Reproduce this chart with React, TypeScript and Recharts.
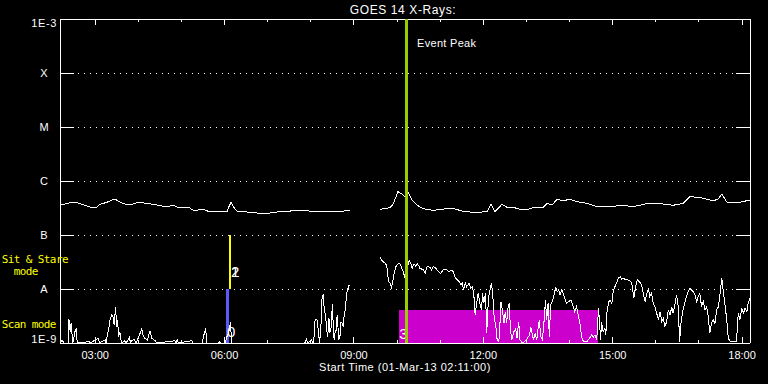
import React from 'react';
import {
  ComposedChart,
  Line,
  XAxis,
  YAxis,
  CartesianGrid,
  ReferenceLine,
  ReferenceArea,
  Label,
} from 'recharts';

// ---------- data ----------
const START_HOUR = 2 + 11 / 60; // 01-Mar-13 02:11:00
const SPAN_HOURS = 16;
const END_HOUR = START_HOUR + SPAN_HOURS;

const hourTicks = [3, 4, 5, 6, 7, 8, 9, 10, 11, 12, 13, 14, 15, 16, 17, 18];
const labelledHours = [3, 6, 9, 12, 15, 18];
const fluxTicks = [1e-9, 1e-8, 1e-7, 1e-6, 1e-5, 1e-4, 1e-3];
const fluxTickLabels = ['1E-9', 'A', 'B', 'C', 'M', 'X', '1E-3'];
const innerDecades = [1e-8, 1e-7, 1e-6, 1e-5, 1e-4];

const titleText = 'GOES 14 X-Rays:';
const xAxisTitle = 'Start Time (01-Mar-13 02:11:00)';
const eventPeakText = 'Event Peak';
const eventPeakHour = 10.22;

// long channel (1-8 A), [hour, flux W/m^2]
const longChannel: [number, number | null][] = [
  [2.19, 3.59e-7], [2.46, 4.03e-7], [2.53, 4.08e-7], [2.72, 3.64e-7], [2.93, 3.21e-7],
  [3.04, 3.3e-7], [3.11, 3.7e-7], [3.27, 4.03e-7], [3.39, 4.45e-7], [3.48, 4.51e-7],
  [3.58, 4.03e-7], [3.74, 3.64e-7], [3.88, 3.75e-7], [3.99, 4.03e-7], [4.2, 3.86e-7],
  [4.39, 3.64e-7], [4.55, 3.45e-7], [4.69, 3.34e-7], [4.8, 3.59e-7], [4.9, 3.3e-7],
  [5.04, 3.16e-7], [5.15, 3.3e-7], [5.27, 2.9e-7], [5.38, 2.9e-7], [5.5, 2.99e-7],
  [5.62, 2.75e-7], [5.89, 2.67e-7], [6.06, 2.75e-7], [6.1, 3.34e-7], [6.15, 4.03e-7],
  [6.2, 3.34e-7], [6.29, 2.75e-7], [6.36, 2.78e-7], [6.52, 2.67e-7], [6.75, 2.55e-7],
  [6.98, 2.48e-7], [7.12, 2.63e-7], [7.45, 2.75e-7], [7.82, 2.9e-7], [7.91, 2.82e-7],
  [8.14, 2.67e-7], [8.44, 2.7e-7], [8.68, 2.75e-7], [8.86, 2.82e-7], [8.91, 2.82e-7],
  [9.25, null],
  [9.6, 2.9e-7], [9.67, 3.07e-7], [9.84, 3.21e-7], [9.91, 3.75e-7], [10.02, 6.34e-7],
  [10.11, 5.74e-7], [10.18, 5.15e-7], [10.25, 6.34e-7], [10.35, 4.45e-7], [10.46, 3.59e-7],
  [10.6, 3.07e-7], [10.83, 2.86e-7], [11.16, 3.07e-7], [11.34, 3.03e-7], [11.53, 2.75e-7],
  [11.85, 2.59e-7], [12.09, 2.75e-7], [12.18, 3.7e-7], [12.27, 2.7e-7], [12.43, 3.7e-7],
  [12.55, 3.26e-7], [12.69, 3.26e-7], [12.85, 2.99e-7], [13.04, 2.99e-7], [13.15, 3.21e-7],
  [13.38, 3.21e-7], [13.48, 3.86e-7], [13.59, 3.59e-7], [13.71, 4.58e-7], [13.85, 4.32e-7],
  [14.01, 4.58e-7], [14.17, 4.14e-7], [14.4, 3.86e-7], [14.64, 3.34e-7], [15.01, 3.34e-7],
  [15.17, 3.59e-7], [15.47, 3.34e-7], [15.79, 3.8e-7], [16.1, 3.8e-7], [16.4, 3.55e-7],
  [16.63, 3.86e-7], [16.79, 5.12e-7], [16.98, 4.99e-7], [17.14, 4.7e-7], [17.33, 4.32e-7],
  [17.44, 4.58e-7], [17.53, 5.74e-7], [17.65, 4.03e-7], [17.79, 3.96e-7], [17.95, 4.03e-7],
  [18.18, 4.45e-7],
];

// short channel (0.5-4 A), [hour, flux W/m^2]
const shortChannel: [number, number | null][] = [
  [2.19, 1.0e-9], [2.23, 1.14e-9], [2.28, 1.0e-9], [2.37, 1.0e-9], [2.39, 2.78e-9], [2.42, 1.62e-9],
  [2.44, 2.35e-9], [2.48, 1.0e-9], [2.53, 1.62e-9], [2.57, 1.87e-9], [2.58, 1.0e-9], [2.86, 1.06e-9],
  [2.88, 1.0e-9], [3.07, 1.22e-9], [3.1, 1.0e-9], [3.23, 1.14e-9], [3.25, 1.0e-9], [3.29, 1.51e-9],
  [3.32, 1.95e-9], [3.34, 2.67e-9], [3.38, 3.3e-9], [3.42, 2.99e-9], [3.44, 2.15e-9], [3.47, 4.58e-9],
  [3.5, 2.0e-9], [3.52, 2.67e-9], [3.54, 1.31e-9], [3.57, 1.62e-9], [3.61, 1.0e-9], [3.69, 1.1e-9],
  [3.72, 1.0e-9], [3.79, 1.28e-9], [3.82, 1.0e-9], [3.85, 1.1e-9], [3.9, 1.17e-9], [3.95, 1.0e-9],
  [4.04, 1.51e-9], [4.08, 1.82e-9], [4.11, 1.41e-9], [4.15, 1.22e-9], [4.21, 1.14e-9], [4.27, 1.67e-9],
  [4.31, 1.22e-9], [4.39, 1.1e-9], [4.43, 1.0e-9], [4.85, 1.1e-9], [4.87, 1.0e-9], [4.9, 1.14e-9],
  [4.93, 1.0e-9], [5.24, 1.1e-9], [5.27, 1.0e-9], [5.48, 1.0e-9], [5.52, 1.41e-9], [5.56, 1.87e-9],
  [5.59, 1.0e-9], [5.85, 1.0e-9], [5.88, 1.06e-9], [5.9, 1.0e-9], [6.01, 1.0e-9], [6.05, 1.28e-9],
  [6.09, 1.51e-9], [6.14, 2.42e-9], [6.16, 1.0e-9], [7.86, 1.0e-9], [7.9, 1.17e-9], [7.93, 1.0e-9],
  [8.02, 1.14e-9], [8.05, 1.0e-9], [8.07, 1.17e-9], [8.1, 2.75e-9], [8.14, 2.75e-9], [8.16, 2.15e-9],
  [8.2, 1.0e-9], [8.23, 1.74e-9], [8.26, 6.73e-9], [8.29, 8.08e-9], [8.31, 4.08e-9], [8.34, 3.3e-9],
  [8.37, 1.74e-9], [8.39, 1.31e-9], [8.42, 2.87e-9], [8.44, 1.51e-9], [8.47, 1.95e-9], [8.5, 5.27e-9],
  [8.52, 2.0e-9], [8.54, 1.14e-9], [8.57, 1.74e-9], [8.59, 1.74e-9], [8.61, 3.3e-9], [8.65, 1.14e-9],
  [8.68, 1.41e-9], [8.7, 2.48e-9], [8.73, 2.32e-9], [8.75, 2.0e-9], [8.78, 3.8e-9], [8.8, 4.08e-9],
  [8.82, 6.73e-9], [8.84, 8.91e-9], [8.87, 10.7e-9], [8.89, 11.9e-9],
  [9.25, null],
  [9.6, 38.6e-9], [9.64, 34.4e-9], [9.68, 32.1e-9], [9.74, 29.0e-9], [9.77, 24.2e-9], [9.8, 13.6e-9],
  [9.84, 12.8e-9], [9.87, 10.7e-9], [9.9, 13.6e-9], [9.93, 19.5e-9], [9.97, 25.9e-9], [10.03, 29.9e-9],
  [10.07, 29.0e-9], [10.11, 24.2e-9], [10.14, 20.9e-9], [10.18, 16.5e-9], [10.22, 22.5e-9], [10.28, 33.4e-9],
  [10.32, 29.9e-9], [10.35, 24.2e-9], [10.39, 29.0e-9], [10.43, 26.7e-9], [10.47, 29.0e-9], [10.52, 25.9e-9],
  [10.53, 24.2e-9], [10.61, 22.5e-9], [10.65, 19.5e-9], [10.7, 26.7e-9], [10.76, 25.2e-9], [10.8, 22.5e-9],
  [10.84, 25.9e-9], [10.9, 24.2e-9], [10.96, 20.9e-9], [11.01, 19.5e-9], [11.07, 22.5e-9], [11.15, 22.5e-9],
  [11.21, 20.9e-9], [11.27, 22.5e-9], [11.3, 20.9e-9], [11.34, 16.9e-9], [11.38, 15.1e-9], [11.44, 13.6e-9],
  [11.48, 11.9e-9], [11.51, 12.8e-9], [11.54, 9.58e-9], [11.58, 12.8e-9], [11.61, 11.0e-9], [11.67, 12.8e-9],
  [11.71, 10.3e-9], [11.75, 11.0e-9], [11.78, 7.74e-9], [11.81, 3.3e-9], [11.85, 5.82e-9], [11.88, 8.32e-9],
  [11.92, 5.43e-9], [11.96, 4.08e-9], [11.98, 8.32e-9], [12.01, 5.43e-9], [12.05, 8.32e-9], [12.08, 1.51e-9],
  [12.1, 3.8e-9], [12.13, 7.74e-9], [12.17, 11.0e-9], [12.19, 12.8e-9], [12.22, 7.2e-9], [12.25, 3.07e-9],
  [12.29, 2.0e-9], [12.32, 1.14e-9], [12.36, 1.06e-9], [12.39, 2.67e-9], [12.41, 5.82e-9], [12.44, 4.08e-9],
  [12.48, 2.32e-9], [12.51, 3.8e-9], [12.54, 2.32e-9], [12.57, 4.39e-9], [12.6, 5.43e-9], [12.63, 1.74e-9],
  [12.66, 1.14e-9], [12.71, 1.62e-9], [12.75, 1.87e-9], [12.78, 1.22e-9], [12.82, 2.48e-9], [12.85, 1.14e-9],
  [12.91, 1.0e-9], [13.0, 1.14e-9], [13.07, 1.41e-9], [13.1, 2.0e-9], [13.14, 1.41e-9], [13.16, 1.14e-9],
  [13.2, 1.51e-9], [13.24, 1.14e-9], [13.27, 1.87e-9], [13.3, 2.67e-9], [13.33, 1.31e-9], [13.37, 1.14e-9],
  [13.41, 2.67e-9], [13.44, 6.25e-9], [13.47, 2.67e-9], [13.5, 5.43e-9], [13.53, 1.31e-9], [13.56, 5.05e-9],
  [13.6, 5.82e-9], [13.64, 7.74e-9], [13.68, 11.0e-9], [13.71, 8.91e-9], [13.75, 9.58e-9], [13.78, 7.74e-9],
  [13.82, 9.58e-9], [13.85, 8.32e-9], [13.9, 6.25e-9], [13.93, 5.43e-9], [13.98, 5.82e-9], [14.03, 6.25e-9],
  [14.07, 5.05e-9], [14.12, 3.8e-9], [14.16, 4.7e-9], [14.2, 3.3e-9], [14.24, 2.32e-9], [14.28, 1.31e-9],
  [14.32, 1.06e-9], [14.4, 1.06e-9], [14.46, 1.22e-9], [14.51, 1.41e-9], [14.55, 1.28e-9], [14.59, 1.41e-9],
  [14.63, 1.14e-9], [14.67, 4.39e-9], [14.69, 2.67e-9], [14.72, 1.14e-9], [14.74, 2.48e-9], [14.78, 1.62e-9],
  [14.82, 1.87e-9], [14.84, 1.41e-9], [14.87, 4.08e-9], [14.91, 5.82e-9], [14.94, 6.25e-9], [14.98, 5.43e-9],
  [15.01, 8.91e-9], [15.05, 11.0e-9], [15.09, 12.8e-9], [15.13, 15.8e-9], [15.17, 16.9e-9], [15.21, 15.1e-9],
  [15.24, 15.8e-9], [15.31, 14.7e-9], [15.36, 14.7e-9], [15.42, 13.6e-9], [15.45, 11.9e-9], [15.49, 6.73e-9],
  [15.53, 11.0e-9], [15.57, 14.7e-9], [15.62, 13.6e-9], [15.67, 11.9e-9], [15.71, 8.32e-9], [15.75, 5.82e-9],
  [15.79, 8.32e-9], [15.83, 10.3e-9], [15.86, 7.2e-9], [15.9, 8.32e-9], [15.94, 5.43e-9], [15.98, 4.7e-9],
  [16.02, 3.55e-9], [16.06, 2.67e-9], [16.1, 3.8e-9], [16.14, 2.48e-9], [16.17, 2.87e-9], [16.21, 2.0e-9],
  [16.25, 2.48e-9], [16.29, 4.08e-9], [16.33, 3.3e-9], [16.37, 4.7e-9], [16.4, 3.55e-9], [16.44, 5.05e-9],
  [16.48, 7.74e-9], [16.52, 4.7e-9], [16.55, 1.06e-9], [16.59, 2.67e-9], [16.63, 4.08e-9], [16.67, 5.43e-9],
  [16.71, 7.2e-9], [16.75, 8.91e-9], [16.79, 10.3e-9], [16.83, 9.58e-9], [16.87, 8.91e-9], [16.91, 7.74e-9],
  [16.95, 5.82e-9], [16.98, 7.2e-9], [17.02, 8.32e-9], [17.06, 4.7e-9], [17.1, 5.82e-9], [17.14, 4.08e-9],
  [17.18, 4.7e-9], [17.22, 2.87e-9], [17.25, 1.51e-9], [17.29, 2.32e-9], [17.33, 2.67e-9], [17.37, 2.32e-9],
  [17.41, 4.08e-9], [17.45, 4.7e-9], [17.49, 8.32e-9], [17.53, 15.8e-9], [17.56, 9.58e-9], [17.6, 5.43e-9],
  [17.64, 2.87e-9], [17.68, 1.22e-9], [17.72, 1.09e-9], [17.8, 1.06e-9], [17.87, 1.06e-9], [17.91, 3.55e-9],
  [17.95, 2.67e-9], [17.99, 4.39e-9], [18.03, 3.55e-9], [18.07, 4.39e-9], [18.11, 3.8e-9], [18.14, 5.43e-9],
  [18.18, 6.73e-9],
];

// observing-mode intervals: [from hour, to hour, low flux, high flux]
const scanModeInterval = [6.03, 6.11, 1e-9, 1e-8];
const sitStareInterval = [6.1, 6.15, 1e-8, 1e-7];
const eventInterval = [10.04, 14.65, 1e-9, 4.1e-9];
const scanModeLabels = ['0'];
const sitStareLabels = ['1', '2'];
const eventIntervalLabels = ['3'];
const modeNames = ['Sit & Stare', 'mode', 'Scan mode'];

// ---------- layout / style ----------
const W = 768;
const H = 384;
const Y_AXIS_W = 60;
const X_AXIS_H = 41;
const MARGIN = { top: 19, right: 18, bottom: 0, left: 0 };
const PLOT_W = W - Y_AXIS_W - MARGIN.right; // 690
const PLOT_H = H - MARGIN.top - X_AXIS_H; // 324
const HOURS_PER_PX = SPAN_HOURS / PLOT_W;
const DECADES_PER_PX = 6 / PLOT_H;

const SANS = '"Liberation Sans", Arial, sans-serif';
const MONO = '"DejaVu Sans Mono", monospace';
const WHITE = '#ffffff';
const YELLOW = '#ffff00';
const BLUE = '#5a5aff';
const MAGENTA = '#cc00cc';
const PEAK_GREEN = '#9acd00';

const toRows = (arr: [number, number | null][]) => arr.map(([t, f]) => ({ t, f }));
const longData = toRows(longChannel);
const shortData = toRows(shortChannel);

const fmtHour = (h: number) => `${String(h).padStart(2, '0')}:00`;

const FluxTick = (props: any) => {
  const { y, payload } = props;
  const i = fluxTicks.findIndex(
    (t) => Math.abs(Math.log10(t) - Math.log10(payload.value)) < 1e-6,
  );
  const text = i >= 0 ? fluxTickLabels[i] : '';
  const isExp = text.startsWith('1E');
  let baseline = y + 4;
  if (i === fluxTicks.length - 1) baseline = y + 8;
  if (i === 0) baseline = y;
  return (
    <text
      x={isExp ? Y_AXIS_W - 3 : Y_AXIS_W - 16}
      y={baseline}
      textAnchor={isExp ? 'end' : 'middle'}
      fill={WHITE}
      fontSize={11}
      fontFamily={SANS}
      letterSpacing={isExp ? 0.6 : 0}
    >
      {text}
    </text>
  );
};

const HourTick = (props: any) => {
  const { x, y, payload } = props;
  return (
    <text x={x} y={y + 15.5} textAnchor="middle" fill={WHITE} fontSize={11} fontFamily={SANS}>
      {fmtHour(payload.value)}
    </text>
  );
};

const TitleContent = ({ viewBox }: any) => (
  <text
    x={viewBox.x + viewBox.width / 2 - 2}
    y={viewBox.y - 5.5}
    textAnchor="middle"
    fill={WHITE}
    fontSize={12}
    letterSpacing={0.6}
    fontFamily={SANS}
  >
    {titleText}
  </text>
);

const PeakContent = ({ viewBox }: any) => (
  <text x={viewBox.x + 10.5} y={viewBox.y + 27.5} fill={WHITE} fontSize={11} letterSpacing={0.3} fontFamily={SANS}>
    {eventPeakText}
  </text>
);

const XTitleContent = ({ viewBox }: any) => (
  <text
    x={viewBox.x + viewBox.width / 2}
    y={viewBox.y + 28}
    textAnchor="middle"
    fill={WHITE}
    fontSize={11}
    letterSpacing={0.5}
    fontFamily={SANS}
  >
    {xAxisTitle}
  </text>
);

const ModeContent = ({ viewBox }: any) => {
  const top = viewBox.y;
  const common = { fill: YELLOW, fontSize: 11, letterSpacing: -0.6, fontFamily: MONO } as any;
  return (
    <g>
      <text x={1.7} y={top + 243.5} {...common}>{modeNames[0]}</text>
      <text x={13.7} y={top + 256} {...common}>{modeNames[1]}</text>
      <text x={1.7} y={top + 309} {...common}>{modeNames[2]}</text>
    </g>
  );
};

const barLabel = (texts: string[], dx: number, fromBottom: number) => ({ viewBox }: any) => (
  <g>
    {texts.map((t) => (
      <text
        key={t}
        x={viewBox.x + dx}
        y={viewBox.y + viewBox.height - fromBottom}
        fill={WHITE}
        fontSize={15}
        fontFamily={SANS}
      >
        {t}
      </text>
    ))}
  </g>
);

export default function App() {
  const bottomTicks = hourTicks.map((h) => {
    const len = (labelledHours.includes(h) ? 6 : 3) * DECADES_PER_PX;
    return { h, len };
  });
  const decTickHours = 14 * HOURS_PER_PX;

  return (
    <div
      style={{
        position: 'absolute',
        left: 0,
        top: 0,
        width: W,
        height: H,
        background: '#000',
        shapeRendering: 'crispEdges',
      } as any}
    >
      <ComposedChart width={W} height={H} margin={MARGIN}>
        <CartesianGrid horizontal vertical={false} stroke={WHITE} strokeDasharray="1 5" />
        <XAxis
          dataKey="t"
          type="number"
          domain={[START_HOUR, END_HOUR]}
          allowDataOverflow
          ticks={labelledHours}
          tick={<HourTick />}
          tickLine={false}
          tickSize={0}
          tickMargin={0}
          height={X_AXIS_H}
          axisLine={{ stroke: WHITE }}
          interval={0}
        >
          <Label content={<XTitleContent />} />
        </XAxis>
        <YAxis
          type="number"
          scale="log"
          domain={[1e-9, 1e-3]}
          allowDataOverflow
          ticks={fluxTicks}
          tick={<FluxTick />}
          tickLine={false}
          tickSize={0}
          width={Y_AXIS_W}
          axisLine={{ stroke: WHITE }}
          interval={0}
        >
          <Label content={<ModeContent />} />
        </YAxis>

        <ReferenceArea
          x1={eventInterval[0]}
          x2={eventInterval[1]}
          y1={eventInterval[2]}
          y2={eventInterval[3]}
          fill={MAGENTA}
          fillOpacity={1}
          stroke="none"
        >
          <Label content={barLabel(eventIntervalLabels, 0.5, 4)} />
        </ReferenceArea>
        <ReferenceArea
          x1={scanModeInterval[0]}
          x2={scanModeInterval[1]}
          y1={scanModeInterval[2]}
          y2={scanModeInterval[3]}
          fill={BLUE}
          fillOpacity={1}
          stroke="none"
        >
          <Label content={barLabel(scanModeLabels, 1, 6)} />
        </ReferenceArea>
        <ReferenceArea
          x1={sitStareInterval[0]}
          x2={sitStareInterval[1]}
          y1={sitStareInterval[2]}
          y2={sitStareInterval[3]}
          fill={YELLOW}
          fillOpacity={1}
          stroke="none"
        >
          <Label content={barLabel(sitStareLabels, 2, 12)} />
        </ReferenceArea>

        <Line
          data={longData}
          dataKey="f"
          type="linear"
          stroke={WHITE}
          strokeWidth={1}
          dot={false}
          activeDot={false}
          connectNulls={false}
          isAnimationActive={false}
        />
        <Line
          data={shortData}
          dataKey="f"
          type="linear"
          stroke={WHITE}
          strokeWidth={1}
          dot={false}
          activeDot={false}
          connectNulls={false}
          isAnimationActive={false}
        />

        {/* frame: top and right */}
        <ReferenceLine y={1e-3} stroke={WHITE} strokeWidth={1}>
          <Label content={<TitleContent />} />
        </ReferenceLine>
        <ReferenceLine x={END_HOUR} stroke={WHITE} strokeWidth={1} />

        {/* decade ticks, left and right, pointing inward */}
        {innerDecades.map((v) => (
          <ReferenceLine
            key={`l${v}`}
            segment={[{ x: START_HOUR, y: v }, { x: START_HOUR + decTickHours, y: v }]}
            stroke={WHITE}
          />
        ))}
        {innerDecades.map((v) => (
          <ReferenceLine
            key={`r${v}`}
            segment={[{ x: END_HOUR - decTickHours, y: v }, { x: END_HOUR, y: v }]}
            stroke={WHITE}
          />
        ))}
        {/* hour ticks, top and bottom, pointing inward */}
        {bottomTicks.map(({ h, len }) => (
          <ReferenceLine
            key={`b${h}`}
            segment={[{ x: h, y: 1e-9 }, { x: h, y: 1e-9 * Math.pow(10, len) }]}
            stroke={WHITE}
          />
        ))}
        {bottomTicks.map(({ h, len }) => (
          <ReferenceLine
            key={`t${h}`}
            segment={[{ x: h, y: 1e-3 }, { x: h, y: 1e-3 / Math.pow(10, len) }]}
            stroke={WHITE}
          />
        ))}

        <ReferenceLine x={eventPeakHour} stroke={PEAK_GREEN} strokeWidth={3}>
          <Label content={<PeakContent />} />
        </ReferenceLine>
      </ComposedChart>
    </div>
  );
}
